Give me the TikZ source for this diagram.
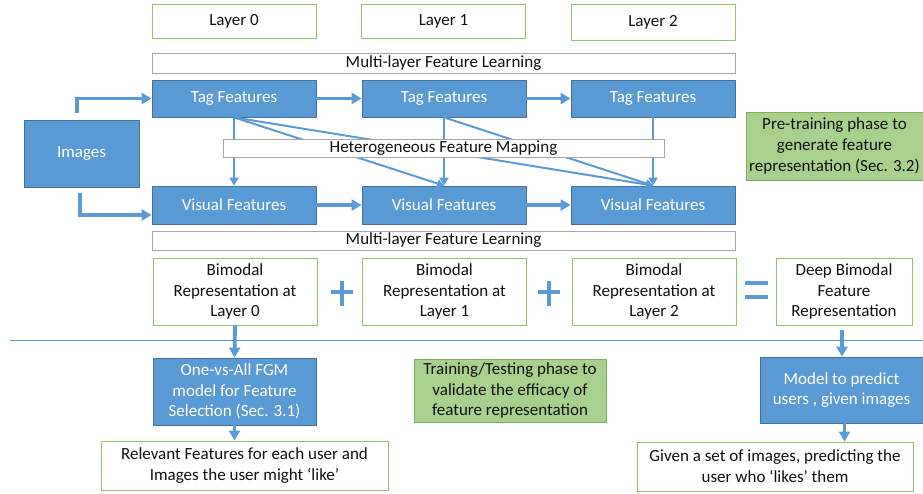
\documentclass[tikz,border=0pt]{standalone}
\usepackage{fontspec}
\setmainfont{Carlito}
\usetikzlibrary{arrows.meta}
\definecolor{bfill}{HTML}{5B9BD5}
\definecolor{bdraw}{HTML}{41719C}
\definecolor{gdraw}{HTML}{8CC466}
\definecolor{gfill}{HTML}{A9D18E}
\definecolor{gray1}{HTML}{A6A6A6}
\definecolor{tx}{HTML}{111111}
\begin{document}
\begin{tikzpicture}[x=1pt,y=-1pt,
  every node/.style={font=\fontsize{17}{20.7}\selectfont, inner sep=0pt, align=center, text=tx},
  bluebox/.style={draw=bdraw, fill=bfill, line width=0.8pt, text=white},
  greenbox/.style={draw=gdraw, fill=white, line width=1pt},
  gfbox/.style={draw=gdraw!90!black, fill=gfill, line width=1pt},
  graybox/.style={draw=gray1, fill=white, line width=1pt},
  bigarrow/.style={draw=bfill, line width=3.8pt, -{Triangle[length=10pt,width=11pt]}},
  midarrow/.style={draw=bfill, line width=2.6pt, -{Triangle[length=8pt,width=9pt]}},
  thinarrow/.style={draw=bfill, line width=2pt, -{Triangle[length=7pt,width=8pt]}},
  opsign/.style={draw=bfill, line width=4.5pt}
]
\useasboundingbox (0,0) rectangle (923,493);
% Layer labels
\node[greenbox, minimum width=164pt, minimum height=34pt] (l0) at (234,21) {Layer 0};
\node[greenbox, minimum width=164pt, minimum height=34pt] (l1) at (443.5,21) {Layer 1};
\node[greenbox, minimum width=164pt, minimum height=36pt] (l2) at (653,22) {Layer 2};
% multilayer top
\node[graybox, minimum width=583pt, minimum height=20pt] (mlt) at (443.5,63) {Multi-layer Feature Learning};
% Tag features
\node[bluebox, minimum width=164pt, minimum height=37pt] (t0) at (234,98.5) {Tag Features};
\node[bluebox, minimum width=164pt, minimum height=37pt] (t1) at (444,98.5) {Tag Features};
\node[bluebox, minimum width=164pt, minimum height=37pt] (t2) at (653,98.5) {Tag Features};
% Images
\node[bluebox, minimum width=115pt, minimum height=67pt] (img) at (81.5,153.5) {Images};
% Visual features
\node[bluebox, minimum width=164pt, minimum height=38pt] (v0) at (234,205) {Visual Features};
\node[bluebox, minimum width=164pt, minimum height=38pt] (v1) at (444,205) {Visual Features};
\node[bluebox, minimum width=164pt, minimum height=38pt] (v2) at (653,205) {Visual Features};
% multilayer bottom
\node[graybox, minimum width=583pt, minimum height=19pt] (mlb) at (443.5,240.5) {Multi-layer Feature Learning};
% Bimodal
\node[greenbox, minimum width=164pt, minimum height=67pt] (b0) at (235,291.5) {Bimodal\\Representation at\\Layer 0};
\node[greenbox, minimum width=164pt, minimum height=67pt] (b1) at (444.5,291.5) {Bimodal\\Representation at\\Layer 1};
\node[greenbox, minimum width=164pt, minimum height=67pt] (b2) at (654,291.5) {Bimodal\\Representation at\\Layer 2};
\node[greenbox, minimum width=136pt, minimum height=67pt] (deep) at (844,291.5) {Deep Bimodal\\Feature\\Representation};
% plus / equal signs
\draw[opsign] (331,292) -- (353,292) (342,281) -- (342,306);
\draw[opsign] (538,292) -- (560,292) (549,281) -- (549,306);
\draw[opsign] (745,283) -- (768,283) (745,297) -- (768,297);
% separator line
\draw[draw=bfill, line width=1pt] (10,340) -- (923,340);
% Pre-training
\node[gfbox, minimum width=177pt, minimum height=68pt] (pre) at (834.5,146) {Pre-training phase to\\generate feature\\representation (Sec. 3.2)};
% lower part
\node[bluebox, minimum width=163pt, minimum height=67pt] (ova) at (234.5,391.5) {One-vs-All FGM\\model for Feature\\Selection (Sec. 3.1)};
\node[gfbox, minimum width=192pt, minimum height=63pt] (train) at (510,390.5) {Training/Testing phase to\\validate the efficacy of\\feature representation};
\node[bluebox, minimum width=163pt, minimum height=66pt] (model) at (841.5,390) {Model to predict\\users , given images};
\node[greenbox, minimum width=287pt, minimum height=49pt] (rel) at (244.5,465.5) {Relevant Features for each user and\\Images the user might ‘like’};
\node[greenbox, minimum width=276pt, minimum height=49pt] (given) at (775,466.5) {Given a set of images, predicting the\\user who ‘likes’ them};
% arrows top
\coordinate (i1) at (77,113);
\coordinate (i2) at (80,193);
\draw[bigarrow] (i1) |- (t0.west);
\draw[bigarrow] (i2) |- ([yshift=-10pt]v0.west);
\draw[bigarrow] (t0.east) -- (t1.west);
\draw[bigarrow] (t1.east) -- (t2.west);
\draw[bigarrow] (v0.east) -- (v1.west);
\draw[bigarrow] (v1.east) -- (v2.west);
\draw[midarrow] (t0.south) -- (v0.north);
\draw[midarrow] (t1.south) -- (v1.north);
\draw[midarrow] (t2.south) -- (v2.north);
\draw[thinarrow] (t0.south) -- (v1.north);
\draw[thinarrow] (t0.south) -- (v2.north);
\draw[thinarrow] (t1.south) -- (v2.north);
% Heterogeneous mapping drawn over the arrows
\node[graybox, minimum width=441pt, minimum height=18pt] (hfm) at (443.5,148) {Heterogeneous Feature Mapping};
% arrows bottom
\draw[bigarrow] (b0.south) -- (ova.north);
\draw[bigarrow] ([xshift=-2pt,yshift=-4pt]deep.south) -- ([xshift=-2pt]deep.south |- model.north);
\draw[bigarrow] (ova.south) -- (ova.south |- rel.north);
\draw[bigarrow] ([xshift=3pt]model.south) -- ([xshift=3pt]model.south |- given.north);
\end{tikzpicture}
\end{document}
